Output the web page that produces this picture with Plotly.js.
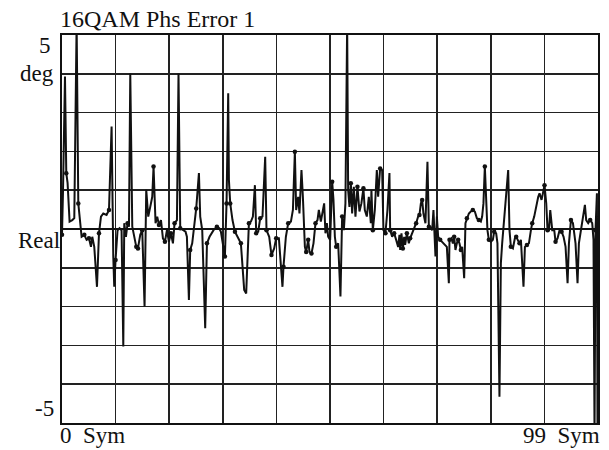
<!DOCTYPE html>
<html>
<head>
<meta charset="utf-8">
<script src="https://cdn.plot.ly/plotly-3.0.1.min.js"></script>
<style>html,body{margin:0;padding:0;background:#fff;}#chart{width:609px;height:450px;}</style>
</head>
<body>
<div id="chart"></div>
<script>
// Trace samples: symbol time (Sym) and phase error (deg)
const sym = [0,0.06,0.18,0.55,0.79,1.03,1.40,1.90,2.27,2.70,3.01,3.62,4.12,4.54,4.98,5.35,5.59,5.96,6.46,6.83,
7.20,7.62,8.23,8.68,9.16,9.47,9.65,9.89,10.26,10.63,11.00,11.32,11.50,11.81,12.11,12.37,12.61,12.98,13.35,13.72,
14.03,14.45,14.82,15.25,15.56,15.93,16.30,16.67,16.91,17.28,17.59,17.91,18.28,18.64,19.01,19.38,19.75,20.12,20.49,20.79,
21.23,21.52,21.84,22.34,22.82,23.07,23.44,23.68,24.05,24.79,25.29,25.53,25.90,26.45,26.77,27.25,27.99,
28.61,29.04,29.35,29.72,30.09,30.39,30.70,30.83,31.07,31.49,31.94,32.42,33.04,33.65,34.02,34.52,34.89,35.26,35.63,35.87,
36.24,36.61,37.03,37.53,37.77,38.27,38.69,39.19,39.56,40.06,40.72,40.91,41.35,41.78,42.28,42.65,43.01,
43.25,43.62,43.86,44.23,44.49,44.73,44.86,45.10,45.47,45.71,46.08,46.45,46.82,47.19,47.44,47.81,48.18,48.42,48.66,48.92,
49.16,49.53,49.90,50.14,50.40,50.64,51.01,51.43,51.74,52.06,52.35,52.67,52.85,53.09,53.35,53.59,53.90,54.20,54.57,54.94,
55.30,55.67,55.93,56.30,56.67,57.04,
57.15,57.41,57.78,58.15,58.39,58.76,59.13,59.37,59.74,60.11,60.48,60.61,60.98,61.35,61.72,62.09,62.33,62.46,62.70,62.96,
63.20,63.38,63.70,64.06,64.30,64.67,65.04,65.41,65.78,66.02,66.28,66.52,66.76,67.13,67.50,67.76,68.00,68.37,68.61,68.80,
68.98,69.24,69.48,69.85,70.46,71.08,71.45,
71.57,71.93,72.19,72.43,72.67,72.93,73.17,73.41,73.67,73.91,74.28,74.52,74.78,75.15,75.51,75.88,76.25,76.62,76.99,77.36,
77.60,77.84,78.10,78.34,78.58,78.84,79.21,79.58,79.82,80.19,80.43,80.80,81.06,81.30,81.67,82.04,82.41,82.65,82.91,83.28,
83.65,83.89,84.26,84.50,84.76,85.24,85.50,85.87,
86.24,86.61,86.85,87.22,87.59,87.96,88.20,88.57,88.83,89.12,89.44,89.68,89.94,90.18,90.55,90.92,91.16,91.53,91.90,92.27,
92.64,93.01,93.38,93.63,94.00,94.37,94.85,95.22,95.47,95.84,96.21,96.58,96.82,97.19,97.56,97.93,98.17,98.36,98.54,98.80,
98.91,99.0];
const deg = [-0.15,0.49,0.93,3.93,1.44,1.19,0.19,0.23,0.28,5.3,0.66,-0.20,-0.15,-0.28,-0.24,-0.46,-0.20,-0.46,-1.49,-0.11,
0.32,0.40,0.36,0.49,2.64,-0.71,-1.49,-0.80,-0.03,0.02,-0.03,-3.03,0.15,-0.20,0.15,0.06,4.01,0.06,-0.20,-0.46,
-0.50,-0.15,-0.03,-2.00,1.01,0.32,0.57,0.83,1.61,0.15,0.32,0.10,0.23,-0.24,-0.33,-0.03,-0.33,-0.11,-0.37,0.15,
0.23,4.01,0.02,-0.03,-0.07,-0.20,-1.83,-0.54,-0.37,0.53,1.44,0.32,-0.03,-2.56,-0.37,-0.20,-0.03,
0.06,0.02,-0.07,-0.46,-0.71,0.66,3.50,1.26,0.66,0.23,-0.07,-0.20,-0.37,-1.57,-1.66,0.15,0.19,0.32,1.13,-0.11,
-0.07,0.28,0.32,1.86,-0.03,-0.20,-0.67,-0.50,-0.24,-0.24,-1.49,-0.97,-0.20,0.15,0.19,0.49,1.99,
0.49,0.83,0.40,1.52,0.83,0.06,-0.46,-0.59,-0.28,-0.59,-0.63,-0.37,0.15,0.23,0.49,0.19,0.45,0.66,-0.11,0.15,
-0.20,-0.28,1.22,0.75,-0.20,-0.46,-0.37,-1.74,0.32,-0.03,0.66,5.3,1.01,0.57,1.18,0.40,1.09,0.32,1.09,0.45,
0.66,1.05,0.49,0.32,0.83,0.15,
1.01,-0.03,0.49,1.52,0.83,1.56,1.52,-0.03,-0.11,0.49,1.44,-0.03,-0.20,-0.11,-0.28,-0.46,-0.15,-0.54,-0.11,-0.50,
-0.20,-0.41,-0.11,-0.37,-0.24,-0.11,-0.03,0.15,0.32,0.36,0.66,0.75,0.40,0.15,1.73,0.06,0.06,-0.03,0.49,-0.03,
-0.71,0.32,-0.20,-0.28,-0.37,-0.46,-1.40,
-0.28,-0.24,-0.37,-0.20,-0.54,-0.37,-0.28,-0.37,-0.54,-0.46,-1.27,0.15,0.28,0.40,0.45,0.49,0.45,0.28,0.23,0.19,
0.32,0.66,1.61,0.66,-0.03,-0.28,-0.33,-0.28,-0.07,-0.11,-0.37,-4.32,-0.88,-0.37,0.32,0.92,1.52,-0.03,-0.46,-0.50,
-0.24,-0.20,-0.33,-0.37,-0.28,-1.49,-0.46,-0.41,
-0.37,-0.03,0.15,0.32,0.62,0.83,0.92,0.75,0.92,1.13,0.66,-0.03,-0.03,0.49,-0.03,-0.03,-0.33,-0.24,-0.03,-0.07,
-0.20,-0.46,-1.40,-0.37,0.23,0.15,-0.37,-1.40,-0.37,-0.03,0.32,0.62,0.23,0.15,0.23,0.15,-0.28,-5.3,-0.03,0.92,
-5.3,-0.03];
// Samples (0-based index) that fall on symbol decision points (drawn as dots)
const symbolIdx = [0,4,10,12,14,19,23,27,34,39,40,42,48,51,54,57,59,62,67,69,74,77,81,82,85,87,89,92,96,98,101,103,105,108,110,113,
121,122,124,126,136,139,142,148,152,155,161,165,168,171,173,179,182,184,187,189,191,195,203,207,210,213,215,219,222,225,229,232,235,
245,248,250,254,257,264,266,271,274,279,289,293];
const title = "16QAM Phs Error 1";
const yLabels = {top: "5", unit: "deg", ref: "Real", bottom: "-5"};
const xLabels = {start: "0\u00a0\u00a0Sym", stop: "99\u00a0\u00a0Sym"};

const font = "'Liberation Serif', 'Times New Roman', serif";
const traces = [
  {x: sym, y: deg, type: "scatter", mode: "lines",
   line: {color: "#111", width: 2}, hoverinfo: "skip"},
  {x: symbolIdx.map(i => sym[i]), y: symbolIdx.map(i => deg[i]), type: "scatter", mode: "markers",
   marker: {color: "#111", size: 4.5}, hoverinfo: "skip"}
];
const ann = (text, x, y, xanchor, yanchor, size) => ({text, x, y, xref: "paper", yref: "paper",
  xanchor, yanchor, showarrow: false, font: {family: font, size: size || 23, color: "#111"}});
const layout = {
  width: 609, height: 450,
  margin: {l: 62, r: 11, t: 35, b: 27},
  paper_bgcolor: "#fff", plot_bgcolor: "#fff",
  showlegend: false,
  xaxis: {range: [0, 99], tick0: 0, dtick: 9.9, showticklabels: false, ticks: "",
    showgrid: true, gridcolor: "#222", gridwidth: 1.6, zeroline: false,
    showline: true, mirror: true, linecolor: "#111", linewidth: 2},
  yaxis: {range: [-5, 5], tick0: 0, dtick: 1, showticklabels: false, ticks: "",
    showgrid: true, gridcolor: "#222", gridwidth: 1.6, zeroline: true, zerolinecolor: "#111", zerolinewidth: 2,
    showline: true, mirror: true, linecolor: "#111", linewidth: 2},
  annotations: [
    Object.assign(ann(title, 0, 1, "left", "bottom", 24), {yshift: 1, xshift: -4}),
    Object.assign(ann(yLabels.top, -0.016, 1.0, "right", "top"), {yshift: 4}),
    ann(yLabels.unit, -0.012, 0.90, "right", "middle"),
    ann(yLabels.ref, 0.0, 0.47, "right", "middle"),
    ann(yLabels.bottom, -0.012, 0.0, "right", "bottom"),
    Object.assign(ann(xLabels.start, 0, 0, "left", "top"), {yshift: 2, xshift: -4}),
    Object.assign(ann(xLabels.stop, 1, 0, "right", "top"), {yshift: 2, xshift: 4})
  ]
};
Plotly.newPlot("chart", traces, layout, {staticPlot: true, displayModeBar: false});
</script>
</body>
</html>
